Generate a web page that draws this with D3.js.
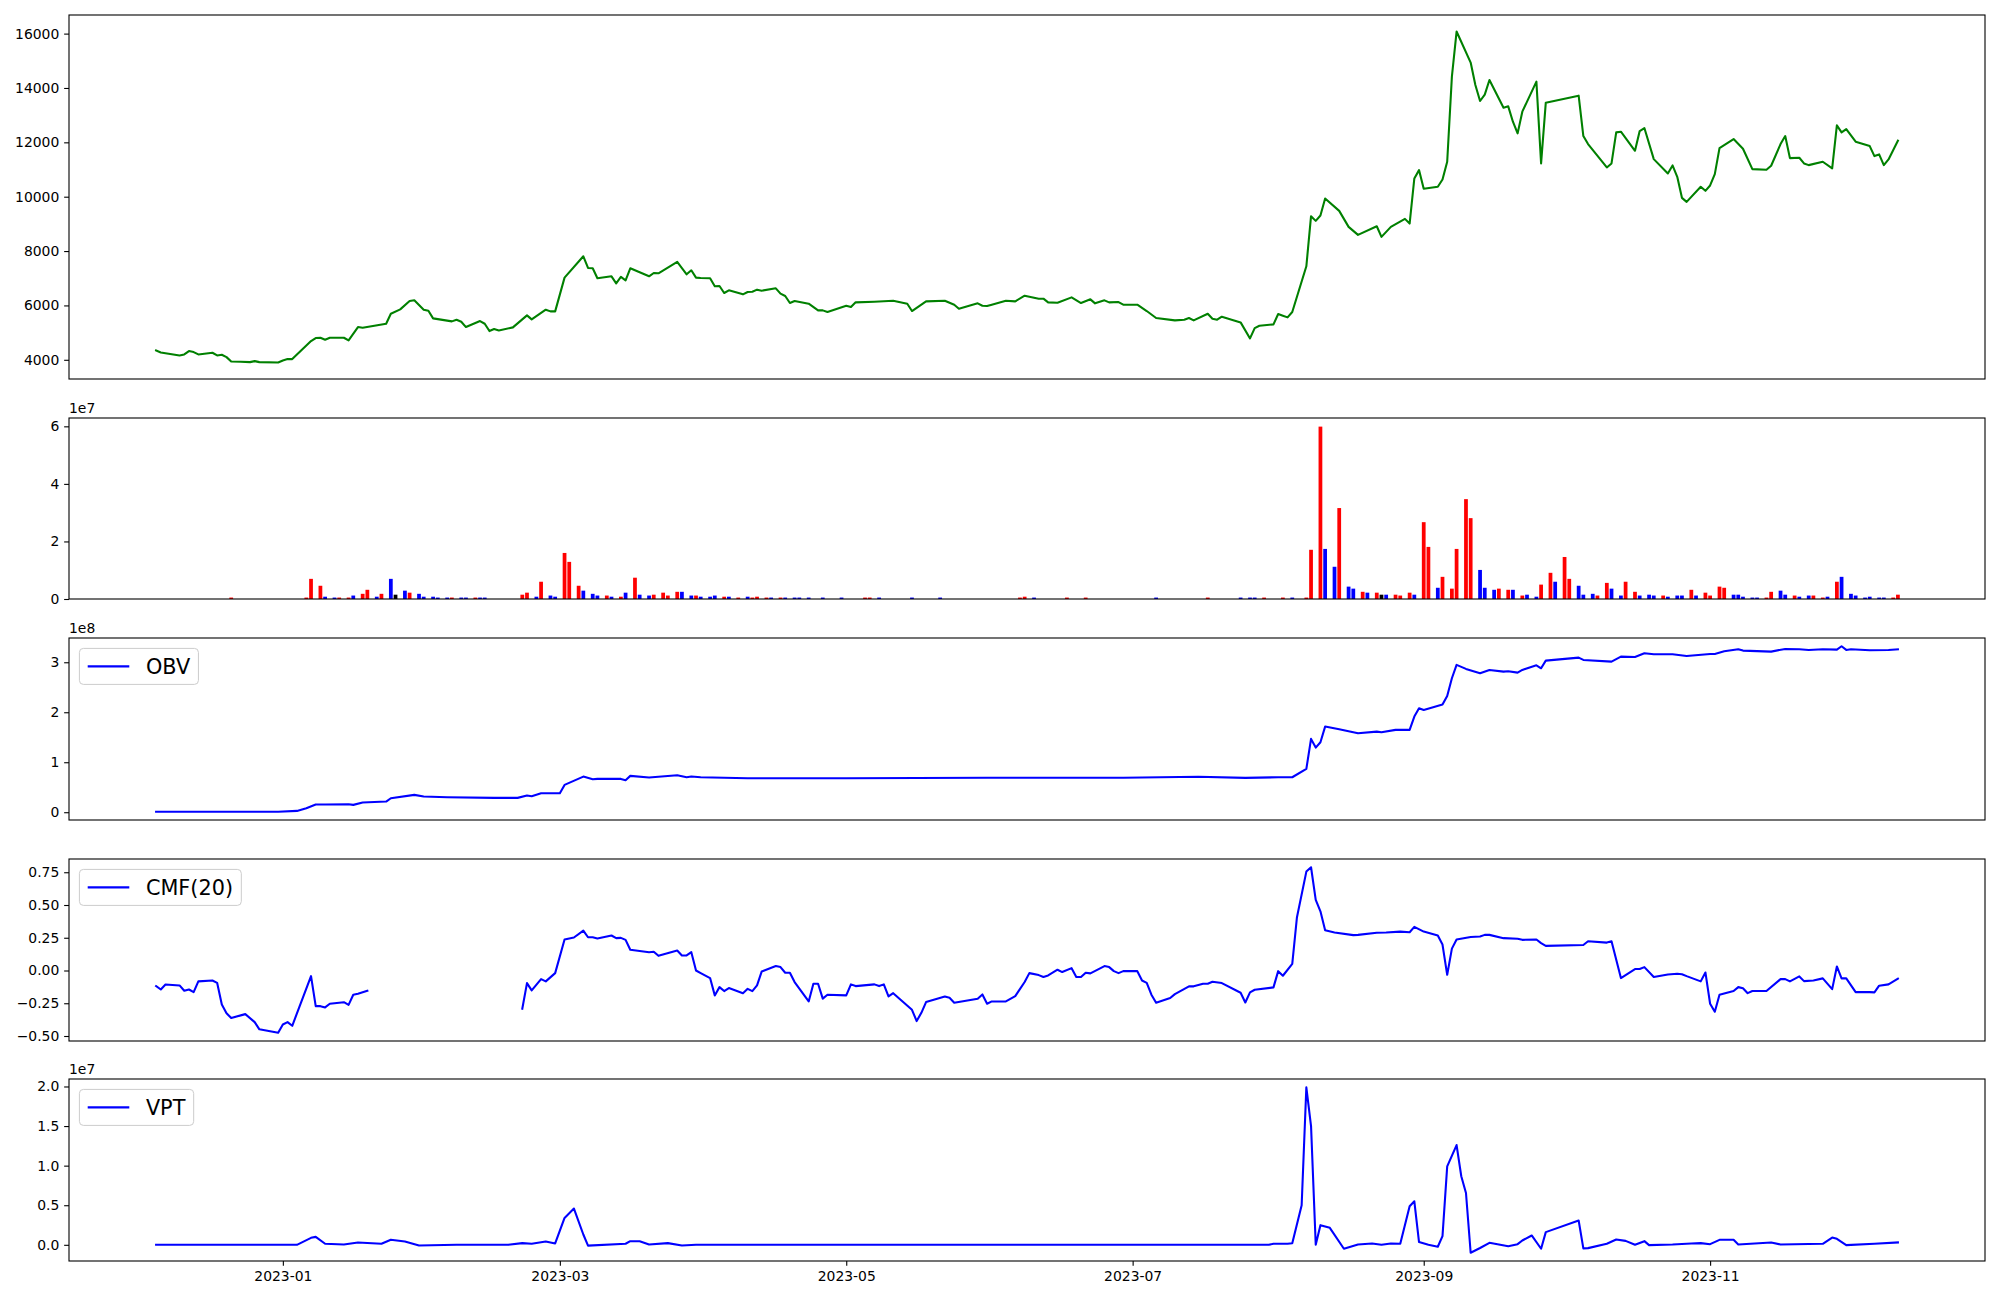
<!DOCTYPE html>
<html>
<head>
<meta charset="utf-8">
<script src="https://cdn.jsdelivr.net/npm/d3@7"></script>
<style>
  body { margin: 0; background: #fff; }
  svg { display: block; font-family: "DejaVu Sans", sans-serif; }
</style>
</head>
<body>
<svg id="chart" width="2000" height="1300"></svg>
<script>
// close price
const priceData = [
  ['2022-12-05', 4344], ['2022-12-06', 4270], ['2022-12-10', 4160], ['2022-12-11', 4197], ['2022-12-12', 4320],
  ['2022-12-13', 4283], ['2022-12-14', 4197], ['2022-12-17', 4258], ['2022-12-18', 4160], ['2022-12-19', 4184],
  ['2022-12-20', 4098], ['2022-12-21', 3939], ['2022-12-23', 3926], ['2022-12-25', 3914], ['2022-12-26', 3951],
  ['2022-12-27', 3914], ['2022-12-31', 3902], ['2023-01-01', 3975], ['2023-01-02', 4025], ['2023-01-03', 4025],
  ['2023-01-07', 4688], ['2023-01-08', 4799], ['2023-01-09', 4811], ['2023-01-10', 4737], ['2023-01-11', 4811],
  ['2023-01-14', 4811], ['2023-01-15', 4713], ['2023-01-17', 5204], ['2023-01-18', 5179], ['2023-01-23', 5327],
  ['2023-01-24', 5695], ['2023-01-26', 5855], ['2023-01-28', 6162], ['2023-01-29', 6187], ['2023-01-31', 5843],
  ['2023-02-01', 5806], ['2023-02-02', 5523], ['2023-02-06', 5413], ['2023-02-07', 5474], ['2023-02-08', 5400],
  ['2023-02-09', 5204], ['2023-02-12', 5425], ['2023-02-13', 5327], ['2023-02-14', 5057], ['2023-02-15', 5130],
  ['2023-02-16', 5081], ['2023-02-19', 5192], ['2023-02-21', 5486], ['2023-02-22', 5634], ['2023-02-23', 5486],
  ['2023-02-26', 5843], ['2023-02-27', 5781], ['2023-02-28', 5781], ['2023-03-02', 7022], ['2023-03-06', 7808],
  ['2023-03-07', 7378], ['2023-03-08', 7366], ['2023-03-09', 6998], ['2023-03-12', 7071], ['2023-03-13', 6813],
  ['2023-03-14', 7047], ['2023-03-15', 6924], ['2023-03-16', 7366], ['2023-03-20', 7071], ['2023-03-21', 7194],
  ['2023-03-22', 7182], ['2023-03-26', 7600], ['2023-03-28', 7145], ['2023-03-29', 7292], ['2023-03-30', 7022],
  ['2023-03-31', 7010], ['2023-04-02', 6998], ['2023-04-03', 6703], ['2023-04-04', 6715], ['2023-04-05', 6457],
  ['2023-04-06', 6555], ['2023-04-09', 6408], ['2023-04-10', 6494], ['2023-04-11', 6506], ['2023-04-12', 6580],
  ['2023-04-13', 6543], ['2023-04-16', 6629], ['2023-04-17', 6432], ['2023-04-18', 6346], ['2023-04-19', 6088],
  ['2023-04-20', 6162], ['2023-04-23', 6064], ['2023-04-25', 5818], ['2023-04-26', 5818], ['2023-04-27', 5757],
  ['2023-05-01', 5990], ['2023-05-02', 5941], ['2023-05-03', 6113], ['2023-05-07', 6138], ['2023-05-11', 6174],
  ['2023-05-14', 6064], ['2023-05-15', 5794], ['2023-05-18', 6150], ['2023-05-22', 6174], ['2023-05-24', 6027],
  ['2023-05-25', 5880], ['2023-05-29', 6076], ['2023-05-30', 5990], ['2023-05-31', 5978], ['2023-06-01', 6027],
  ['2023-06-04', 6174], ['2023-06-06', 6150], ['2023-06-08', 6359], ['2023-06-11', 6248], ['2023-06-12', 6248],
  ['2023-06-13', 6113], ['2023-06-15', 6101], ['2023-06-18', 6297], ['2023-06-20', 6088], ['2023-06-22', 6224],
  ['2023-06-23', 6076], ['2023-06-25', 6187], ['2023-06-26', 6113], ['2023-06-28', 6125], ['2023-06-29', 6027],
  ['2023-07-02', 6027], ['2023-07-04', 5794], ['2023-07-06', 5536], ['2023-07-10', 5450], ['2023-07-12', 5474],
  ['2023-07-13', 5536], ['2023-07-14', 5450], ['2023-07-17', 5695], ['2023-07-18', 5511], ['2023-07-19', 5474],
  ['2023-07-20', 5585], ['2023-07-24', 5376], ['2023-07-26', 4786], ['2023-07-27', 5167], ['2023-07-28', 5253],
  ['2023-07-31', 5302], ['2023-08-01', 5683], ['2023-08-02', 5622], ['2023-08-03', 5560], ['2023-08-04', 5757],
  ['2023-08-07', 7440], ['2023-08-08', 9283], ['2023-08-09', 9111], ['2023-08-10', 9307], ['2023-08-11', 9934],
  ['2023-08-14', 9479], ['2023-08-16', 8889], ['2023-08-18', 8595], ['2023-08-22', 8914], ['2023-08-23', 8521],
  ['2023-08-25', 8889], ['2023-08-28', 9184], ['2023-08-29', 9012], ['2023-08-30', 10671], ['2023-08-31', 10978],
  ['2023-09-01', 10290], ['2023-09-04', 10364], ['2023-09-05', 10634], ['2023-09-06', 11285], ['2023-09-07', 14418],
  ['2023-09-08', 16076], ['2023-09-11', 14934], ['2023-09-12', 14110], ['2023-09-13', 13521], ['2023-09-14', 13754],
  ['2023-09-15', 14295], ['2023-09-18', 13275], ['2023-09-19', 13324], ['2023-09-20', 12759], ['2023-09-21', 12329],
  ['2023-09-22', 13128], ['2023-09-25', 14233], ['2023-09-26', 11224], ['2023-09-27', 13459], ['2023-10-04', 13717],
  ['2023-10-05', 12231], ['2023-10-06', 11936], ['2023-10-10', 11076], ['2023-10-11', 11224], ['2023-10-12', 12366],
  ['2023-10-13', 12391], ['2023-10-16', 11690], ['2023-10-17', 12415], ['2023-10-18', 12526], ['2023-10-20', 11383],
  ['2023-10-23', 10855], ['2023-10-24', 11150], ['2023-10-25', 10732], ['2023-10-26', 9958], ['2023-10-27', 9811],
  ['2023-10-30', 10364], ['2023-10-31', 10216], ['2023-11-01', 10413], ['2023-11-02', 10830], ['2023-11-03', 11789],
  ['2023-11-06', 12120], ['2023-11-08', 11764], ['2023-11-10', 11015], ['2023-11-13', 10990], ['2023-11-14', 11138],
  ['2023-11-16', 11936], ['2023-11-17', 12231], ['2023-11-18', 11420], ['2023-11-20', 11432], ['2023-11-21', 11224],
  ['2023-11-22', 11162], ['2023-11-25', 11285], ['2023-11-27', 11039], ['2023-11-28', 12624], ['2023-11-29', 12366],
  ['2023-11-30', 12489], ['2023-12-02', 12022], ['2023-12-05', 11862], ['2023-12-06', 11494], ['2023-12-07', 11555],
  ['2023-12-08', 11162], ['2023-12-09', 11371], ['2023-12-11', 12059]
]

// volume, with direction of the day: u = up, d = down, e = unchanged
const volumeData = [
  ['2022-12-21', 0.5e6, 'u'], ['2023-01-06', 0.5e6, 'u'], ['2023-01-07', 7.0e6, 'u'], ['2023-01-09', 4.6e6, 'u'],
  ['2023-01-10', 0.8e6, 'd'], ['2023-01-12', 0.5e6, 'd'], ['2023-01-13', 0.5e6, 'u'], ['2023-01-15', 0.5e6, 'u'],
  ['2023-01-16', 1.2e6, 'd'], ['2023-01-18', 1.8e6, 'u'], ['2023-01-19', 3.2e6, 'u'], ['2023-01-21', 0.8e6, 'd'],
  ['2023-01-22', 1.8e6, 'u'], ['2023-01-24', 7.0e6, 'd'], ['2023-01-25', 1.5e6, 'e'], ['2023-01-27', 2.9e6, 'd'],
  ['2023-01-28', 2.2e6, 'u'], ['2023-01-30', 1.8e6, 'd'], ['2023-01-31', 0.8e6, 'd'], ['2023-02-02', 0.8e6, 'd'],
  ['2023-02-03', 0.5e6, 'd'], ['2023-02-05', 0.5e6, 'd'], ['2023-02-06', 0.5e6, 'u'], ['2023-02-08', 0.5e6, 'd'],
  ['2023-02-09', 0.5e6, 'd'], ['2023-02-11', 0.5e6, 'u'], ['2023-02-12', 0.5e6, 'd'], ['2023-02-13', 0.5e6, 'd'],
  ['2023-02-21', 1.5e6, 'u'], ['2023-02-22', 2.2e6, 'u'], ['2023-02-24', 0.8e6, 'd'], ['2023-02-25', 6.0e6, 'u'],
  ['2023-02-27', 1.2e6, 'd'], ['2023-02-28', 0.8e6, 'd'], ['2023-03-02', 16.0e6, 'u'], ['2023-03-03', 12.9e6, 'u'],
  ['2023-03-05', 4.6e6, 'u'], ['2023-03-06', 2.9e6, 'd'], ['2023-03-08', 1.8e6, 'd'], ['2023-03-09', 1.2e6, 'd'],
  ['2023-03-11', 1.2e6, 'u'], ['2023-03-12', 0.8e6, 'd'], ['2023-03-14', 0.8e6, 'u'], ['2023-03-15', 2.2e6, 'd'],
  ['2023-03-17', 7.4e6, 'u'], ['2023-03-18', 1.5e6, 'd'], ['2023-03-20', 1.2e6, 'd'], ['2023-03-21', 1.5e6, 'u'],
  ['2023-03-23', 2.2e6, 'u'], ['2023-03-24', 1.2e6, 'u'], ['2023-03-26', 2.5e6, 'u'], ['2023-03-27', 2.5e6, 'd'],
  ['2023-03-29', 1.2e6, 'd'], ['2023-03-30', 1.2e6, 'u'], ['2023-03-31', 0.8e6, 'd'], ['2023-04-02', 0.8e6, 'd'],
  ['2023-04-03', 1.2e6, 'd'], ['2023-04-05', 0.8e6, 'u'], ['2023-04-06', 0.8e6, 'd'], ['2023-04-08', 0.5e6, 'u'],
  ['2023-04-10', 0.8e6, 'd'], ['2023-04-11', 0.5e6, 'u'], ['2023-04-12', 0.8e6, 'u'], ['2023-04-14', 0.5e6, 'u'],
  ['2023-04-15', 0.5e6, 'd'], ['2023-04-17', 0.5e6, 'u'], ['2023-04-18', 0.5e6, 'd'], ['2023-04-20', 0.5e6, 'd'],
  ['2023-04-21', 0.5e6, 'd'], ['2023-04-23', 0.5e6, 'd'], ['2023-04-26', 0.5e6, 'd'], ['2023-04-30', 0.5e6, 'd'],
  ['2023-05-05', 0.5e6, 'u'], ['2023-05-06', 0.5e6, 'u'], ['2023-05-08', 0.5e6, 'd'], ['2023-05-15', 0.5e6, 'd'],
  ['2023-05-21', 0.5e6, 'd'], ['2023-06-07', 0.5e6, 'u'], ['2023-06-08', 0.8e6, 'u'], ['2023-06-10', 0.5e6, 'd'],
  ['2023-06-17', 0.5e6, 'u'], ['2023-06-21', 0.5e6, 'u'], ['2023-07-06', 0.5e6, 'd'], ['2023-07-17', 0.5e6, 'u'],
  ['2023-07-24', 0.5e6, 'd'], ['2023-07-26', 0.5e6, 'd'], ['2023-07-27', 0.5e6, 'd'], ['2023-07-29', 0.5e6, 'u'],
  ['2023-08-02', 0.5e6, 'u'], ['2023-08-04', 0.5e6, 'd'], ['2023-08-07', 0.5e6, 'u'], ['2023-08-08', 17.1e6, 'u'],
  ['2023-08-10', 59.9e6, 'u'], ['2023-08-11', 17.4e6, 'd'], ['2023-08-13', 11.2e6, 'd'], ['2023-08-14', 31.6e6, 'u'],
  ['2023-08-16', 4.3e6, 'd'], ['2023-08-17', 3.6e6, 'd'], ['2023-08-19', 2.5e6, 'u'], ['2023-08-20', 2.2e6, 'd'],
  ['2023-08-22', 2.2e6, 'u'], ['2023-08-23', 1.5e6, 'e'], ['2023-08-24', 1.5e6, 'd'], ['2023-08-26', 1.5e6, 'u'],
  ['2023-08-27', 1.2e6, 'u'], ['2023-08-29', 2.2e6, 'u'], ['2023-08-30', 1.5e6, 'd'], ['2023-09-01', 26.7e6, 'u'],
  ['2023-09-02', 18.1e6, 'u'], ['2023-09-04', 3.9e6, 'd'], ['2023-09-05', 7.7e6, 'u'], ['2023-09-07', 3.6e6, 'u'],
  ['2023-09-08', 17.4e6, 'u'], ['2023-09-10', 34.7e6, 'u'], ['2023-09-11', 28.1e6, 'u'], ['2023-09-13', 10.1e6, 'd'],
  ['2023-09-14', 3.9e6, 'd'], ['2023-09-16', 3.2e6, 'd'], ['2023-09-17', 3.6e6, 'u'], ['2023-09-19', 3.2e6, 'u'],
  ['2023-09-20', 3.2e6, 'd'], ['2023-09-22', 1.2e6, 'u'], ['2023-09-23', 1.5e6, 'd'], ['2023-09-25', 0.8e6, 'd'],
  ['2023-09-26', 5.0e6, 'u'], ['2023-09-28', 9.1e6, 'u'], ['2023-09-29', 6.0e6, 'd'], ['2023-10-01', 14.6e6, 'u'],
  ['2023-10-02', 7.0e6, 'u'], ['2023-10-04', 4.6e6, 'd'], ['2023-10-05', 1.5e6, 'd'], ['2023-10-07', 1.8e6, 'd'],
  ['2023-10-08', 1.2e6, 'u'], ['2023-10-10', 5.6e6, 'u'], ['2023-10-11', 3.6e6, 'd'], ['2023-10-13', 1.2e6, 'd'],
  ['2023-10-14', 6.0e6, 'u'], ['2023-10-16', 2.5e6, 'u'], ['2023-10-17', 1.2e6, 'd'], ['2023-10-19', 1.5e6, 'd'],
  ['2023-10-20', 1.2e6, 'd'], ['2023-10-22', 1.2e6, 'u'], ['2023-10-23', 0.8e6, 'd'], ['2023-10-25', 1.2e6, 'd'],
  ['2023-10-26', 1.2e6, 'd'], ['2023-10-28', 3.2e6, 'u'], ['2023-10-29', 1.2e6, 'd'], ['2023-10-31', 2.2e6, 'u'],
  ['2023-11-01', 1.2e6, 'u'], ['2023-11-03', 4.3e6, 'u'], ['2023-11-04', 3.9e6, 'u'], ['2023-11-06', 1.5e6, 'd'],
  ['2023-11-07', 1.5e6, 'd'], ['2023-11-08', 0.8e6, 'd'], ['2023-11-10', 0.5e6, 'd'], ['2023-11-11', 0.5e6, 'd'],
  ['2023-11-13', 0.5e6, 'u'], ['2023-11-14', 2.5e6, 'u'], ['2023-11-16', 2.9e6, 'd'], ['2023-11-17', 1.5e6, 'd'],
  ['2023-11-19', 1.2e6, 'u'], ['2023-11-20', 0.8e6, 'd'], ['2023-11-22', 1.2e6, 'd'], ['2023-11-23', 1.2e6, 'u'],
  ['2023-11-25', 0.5e6, 'u'], ['2023-11-26', 0.8e6, 'd'], ['2023-11-28', 6.0e6, 'u'], ['2023-11-29', 7.7e6, 'd'],
  ['2023-12-01', 1.8e6, 'd'], ['2023-12-02', 1.2e6, 'd'], ['2023-12-04', 0.5e6, 'd'], ['2023-12-05', 0.8e6, 'd'],
  ['2023-12-07', 0.5e6, 'd'], ['2023-12-08', 0.5e6, 'd'], ['2023-12-10', 0.5e6, 'u'], ['2023-12-11', 1.5e6, 'u']
]

// on-balance volume
const obvData = [
  ['2022-12-05', 1.0e6], ['2022-12-31', 1.0e6], ['2023-01-04', 2.7e6], ['2023-01-06', 8.0e6], ['2023-01-08', 15.3e6],
  ['2023-01-10', 15.3e6], ['2023-01-15', 16.0e6], ['2023-01-16', 14.7e6], ['2023-01-18', 19.3e6], ['2023-01-23', 21.3e6],
  ['2023-01-24', 28.0e6], ['2023-01-29', 34.7e6], ['2023-01-31', 31.3e6], ['2023-02-05', 30.0e6], ['2023-02-15', 28.7e6],
  ['2023-02-20', 28.7e6], ['2023-02-22', 33.3e6], ['2023-02-23', 32.0e6], ['2023-02-25', 38.0e6], ['2023-03-01', 38.0e6],
  ['2023-03-02', 54.7e6], ['2023-03-06', 71.3e6], ['2023-03-08', 66.0e6], ['2023-03-09', 66.7e6], ['2023-03-14', 66.7e6],
  ['2023-03-15', 64.0e6], ['2023-03-16', 72.7e6], ['2023-03-20', 69.3e6], ['2023-03-26', 74.0e6], ['2023-03-28', 70.0e6],
  ['2023-03-29', 71.3e6], ['2023-03-31', 70.0e6], ['2023-04-10', 68.0e6], ['2023-05-01', 68.0e6], ['2023-05-31', 69.0e6],
  ['2023-06-29', 69.0e6], ['2023-07-15', 71.0e6], ['2023-07-25', 68.7e6], ['2023-08-01', 70.0e6], ['2023-08-04', 70.0e6],
  ['2023-08-07', 86.7e6], ['2023-08-08', 146.7e6], ['2023-08-09', 129.3e6], ['2023-08-10', 140.0e6], ['2023-08-11', 171.3e6],
  ['2023-08-14', 166.0e6], ['2023-08-18', 158.0e6], ['2023-08-22', 161.3e6], ['2023-08-23', 160.0e6], ['2023-08-26', 164.7e6],
  ['2023-08-29', 164.7e6], ['2023-08-30', 191.3e6], ['2023-08-31', 208.0e6], ['2023-09-01', 204.7e6], ['2023-09-05', 215.3e6],
  ['2023-09-06', 232.7e6], ['2023-09-07', 268.0e6], ['2023-09-08', 294.7e6], ['2023-09-10', 286.7e6], ['2023-09-13', 278.0e6],
  ['2023-09-15', 284.7e6], ['2023-09-18', 281.3e6], ['2023-09-19', 282.0e6], ['2023-09-21', 279.3e6], ['2023-09-22', 284.7e6],
  ['2023-09-25', 294.0e6], ['2023-09-26', 288.0e6], ['2023-09-27', 303.3e6], ['2023-10-04', 309.3e6], ['2023-10-05', 304.7e6],
  ['2023-10-11', 301.3e6], ['2023-10-13', 311.3e6], ['2023-10-16', 310.7e6], ['2023-10-18', 318.0e6], ['2023-10-20', 316.0e6],
  ['2023-10-24', 316.0e6], ['2023-10-27', 312.7e6], ['2023-11-01', 316.7e6], ['2023-11-02', 316.7e6], ['2023-11-04', 322.0e6],
  ['2023-11-07', 326.0e6], ['2023-11-08', 323.3e6], ['2023-11-14', 321.3e6], ['2023-11-17', 326.7e6], ['2023-11-20', 326.0e6],
  ['2023-11-22', 324.7e6], ['2023-11-25', 326.0e6], ['2023-11-28', 325.3e6], ['2023-11-29', 332.0e6], ['2023-11-30', 324.7e6],
  ['2023-12-01', 326.0e6], ['2023-12-05', 324.0e6], ['2023-12-09', 324.7e6], ['2023-12-11', 326.0e6]
]

// chaikin money flow, 20 days (null = not defined)
const cmfData = [
  ['2022-12-05', -0.119], ['2022-12-06', -0.145], ['2022-12-07', -0.107], ['2022-12-10', -0.114], ['2022-12-11', -0.155],
  ['2022-12-12', -0.145], ['2022-12-13', -0.165], ['2022-12-14', -0.083], ['2022-12-17', -0.076], ['2022-12-18', -0.094],
  ['2022-12-19', -0.26], ['2022-12-20', -0.326], ['2022-12-21', -0.363], ['2022-12-24', -0.333], ['2022-12-26', -0.394],
  ['2022-12-27', -0.449], ['2022-12-31', -0.475], ['2023-01-01', -0.412], ['2023-01-02', -0.394], ['2023-01-03', -0.422],
  ['2023-01-07', -0.043], ['2023-01-08', -0.272], ['2023-01-09', -0.272], ['2023-01-10', -0.282], ['2023-01-11', -0.254],
  ['2023-01-14', -0.242], ['2023-01-15', -0.262], ['2023-01-16', -0.185], ['2023-01-17', -0.178], ['2023-01-19', -0.155],
  ['2023-01-20', null],
  ['2023-02-21', -0.292], ['2023-02-22', -0.096], ['2023-02-23', -0.152], ['2023-02-25', -0.066], ['2023-02-26', -0.083],
  ['2023-02-28', -0.02], ['2023-03-02', 0.237], ['2023-03-04', 0.252], ['2023-03-06', 0.305], ['2023-03-07', 0.254],
  ['2023-03-08', 0.254], ['2023-03-09', 0.244], ['2023-03-12', 0.267], ['2023-03-13', 0.247], ['2023-03-14', 0.249],
  ['2023-03-15', 0.234], ['2023-03-16', 0.158], ['2023-03-20', 0.14], ['2023-03-21', 0.143], ['2023-03-22', 0.112],
  ['2023-03-26', 0.153], ['2023-03-27', 0.115], ['2023-03-28', 0.115], ['2023-03-29', 0.14], ['2023-03-30', 0.0],
  ['2023-03-31', -0.02], ['2023-04-02', -0.058], ['2023-04-03', -0.19], ['2023-04-04', -0.127], ['2023-04-05', -0.157],
  ['2023-04-06', -0.134], ['2023-04-09', -0.173], ['2023-04-10', -0.14], ['2023-04-11', -0.157], ['2023-04-12', -0.114],
  ['2023-04-13', -0.007], ['2023-04-16', 0.034], ['2023-04-17', 0.026], ['2023-04-18', -0.017], ['2023-04-19', -0.017],
  ['2023-04-20', -0.088], ['2023-04-23', -0.236], ['2023-04-24', -0.101], ['2023-04-25', -0.101], ['2023-04-26', -0.215],
  ['2023-04-27', -0.185], ['2023-05-01', -0.19], ['2023-05-02', -0.106], ['2023-05-03', -0.119], ['2023-05-07', -0.106],
  ['2023-05-08', -0.119], ['2023-05-09', -0.106], ['2023-05-10', -0.198], ['2023-05-11', -0.173], ['2023-05-15', -0.3],
  ['2023-05-16', -0.386], ['2023-05-17', -0.323], ['2023-05-18', -0.241], ['2023-05-22', -0.198], ['2023-05-23', -0.208],
  ['2023-05-24', -0.246], ['2023-05-29', -0.215], ['2023-05-30', -0.183], ['2023-05-31', -0.254], ['2023-06-01', -0.236],
  ['2023-06-04', -0.236], ['2023-06-06', -0.195], ['2023-06-08', -0.088], ['2023-06-09', -0.02], ['2023-06-11', -0.035],
  ['2023-06-12', -0.05], ['2023-06-13', -0.038], ['2023-06-15', 0.006], ['2023-06-16', -0.012], ['2023-06-18', 0.018],
  ['2023-06-19', -0.05], ['2023-06-20', -0.05], ['2023-06-21', -0.017], ['2023-06-22', -0.022], ['2023-06-25', 0.034],
  ['2023-06-26', 0.026], ['2023-06-27', -0.005], ['2023-06-28', -0.02], ['2023-06-29', -0.005], ['2023-07-02', -0.005],
  ['2023-07-03', -0.076], ['2023-07-04', -0.094], ['2023-07-05', -0.185], ['2023-07-06', -0.246], ['2023-07-09', -0.21],
  ['2023-07-10', -0.18], ['2023-07-13', -0.121], ['2023-07-14', -0.121], ['2023-07-16', -0.101], ['2023-07-17', -0.101],
  ['2023-07-18', -0.086], ['2023-07-20', -0.096], ['2023-07-24', -0.17], ['2023-07-25', -0.244], ['2023-07-26', -0.167],
  ['2023-07-27', -0.147], ['2023-07-31', -0.129], ['2023-08-01', -0.005], ['2023-08-02', -0.04], ['2023-08-04', 0.051],
  ['2023-08-05', 0.407], ['2023-08-07', 0.755], ['2023-08-08', 0.788], ['2023-08-09', 0.539], ['2023-08-10', 0.452],
  ['2023-08-11', 0.307], ['2023-08-13', 0.29], ['2023-08-17', 0.27], ['2023-08-18', 0.272], ['2023-08-22', 0.288],
  ['2023-08-24', 0.29], ['2023-08-27', 0.297], ['2023-08-29', 0.292], ['2023-08-30', 0.333], ['2023-09-01', 0.297],
  ['2023-09-04', 0.267], ['2023-09-05', 0.198], ['2023-09-06', -0.033], ['2023-09-07', 0.167], ['2023-09-08', 0.236],
  ['2023-09-11', 0.256], ['2023-09-13', 0.259], ['2023-09-14', 0.272], ['2023-09-15', 0.272], ['2023-09-18', 0.247],
  ['2023-09-21', 0.242], ['2023-09-22', 0.234], ['2023-09-25', 0.237], ['2023-09-26', 0.209], ['2023-09-27', 0.188],
  ['2023-10-05', 0.195], ['2023-10-06', 0.223], ['2023-10-10', 0.213], ['2023-10-11', 0.223], ['2023-10-13', -0.058],
  ['2023-10-16', 0.011], ['2023-10-17', 0.011], ['2023-10-18', 0.026], ['2023-10-20', -0.05], ['2023-10-23', -0.03],
  ['2023-10-25', -0.025], ['2023-10-26', -0.028], ['2023-10-27', -0.043], ['2023-10-30', -0.083], ['2023-10-31', -0.015],
  ['2023-11-01', -0.254], ['2023-11-02', -0.315], ['2023-11-03', -0.185], ['2023-11-06', -0.157], ['2023-11-07', -0.127],
  ['2023-11-08', -0.135], ['2023-11-09', -0.173], ['2023-11-10', -0.157], ['2023-11-13', -0.157], ['2023-11-16', -0.066],
  ['2023-11-17', -0.066], ['2023-11-18', -0.083], ['2023-11-20', -0.045], ['2023-11-21', -0.081], ['2023-11-23', -0.076],
  ['2023-11-25', -0.06], ['2023-11-27', -0.142], ['2023-11-28', 0.031], ['2023-11-29', -0.06], ['2023-11-30', -0.06],
  ['2023-12-02', -0.165], ['2023-12-05', -0.165], ['2023-12-06', -0.167], ['2023-12-07', -0.116], ['2023-12-09', -0.106],
  ['2023-12-11', -0.063]
]

// volume price trend
const vptData = [
  ['2022-12-05', 0], ['2022-12-29', 0], ['2023-01-04', 0], ['2023-01-07', 0.88e6], ['2023-01-08', 1.0e6],
  ['2023-01-10', 0.13e6], ['2023-01-14', 0.04e6], ['2023-01-17', 0.3e6], ['2023-01-22', 0.13e6], ['2023-01-24', 0.63e6],
  ['2023-01-27', 0.42e6], ['2023-01-30', -0.08e6], ['2023-02-07', 0], ['2023-02-18', 0], ['2023-02-21', 0.21e6],
  ['2023-02-23', 0.13e6], ['2023-02-26', 0.42e6], ['2023-02-28', 0.17e6], ['2023-03-02', 3.4e6], ['2023-03-04', 4.58e6],
  ['2023-03-06', 1.3e6], ['2023-03-07', -0.1e6], ['2023-03-15', 0.13e6], ['2023-03-16', 0.46e6], ['2023-03-18', 0.46e6],
  ['2023-03-20', 0.04e6], ['2023-03-24', 0.21e6], ['2023-03-27', -0.08e6], ['2023-03-30', 0], ['2023-07-30', 0],
  ['2023-07-31', 0.13e6], ['2023-08-03', 0.13e6], ['2023-08-04', 0.2e6], ['2023-08-06', 5.0e6], ['2023-08-07', 19.9e6],
  ['2023-08-08', 15.0e6], ['2023-08-09', 0], ['2023-08-10', 2.48e6], ['2023-08-12', 2.14e6], ['2023-08-15', -0.5e6],
  ['2023-08-18', 0.04e6], ['2023-08-21', 0.17e6], ['2023-08-23', 0], ['2023-08-25', 0.17e6], ['2023-08-27', 0.13e6],
  ['2023-08-29', 4.87e6], ['2023-08-30', 5.5e6], ['2023-08-31', 0.34e6], ['2023-09-02', 0], ['2023-09-04', -0.25e6],
  ['2023-09-05', 1.09e6], ['2023-09-06', 9.9e6], ['2023-09-08', 12.6e6], ['2023-09-09', 8.66e6], ['2023-09-10', 6.55e6],
  ['2023-09-11', -1.0e6], ['2023-09-13', -0.4e6], ['2023-09-15', 0.25e6], ['2023-09-17', 0.04e6], ['2023-09-19', -0.17e6],
  ['2023-09-21', 0.08e6], ['2023-09-22', 0.55e6], ['2023-09-24', 1.18e6], ['2023-09-26', -0.5e6], ['2023-09-27', 1.6e6],
  ['2023-10-04', 3.07e6], ['2023-10-05', -0.45e6], ['2023-10-06', -0.42e6], ['2023-10-10', 0.13e6], ['2023-10-12', 0.67e6],
  ['2023-10-14', 0.5e6], ['2023-10-16', 0], ['2023-10-18', 0.46e6], ['2023-10-19', -0.04e6], ['2023-10-24', 0.04e6],
  ['2023-10-28', 0.17e6], ['2023-10-30', 0.21e6], ['2023-11-01', 0.08e6], ['2023-11-03', 0.63e6], ['2023-11-06', 0.63e6],
  ['2023-11-07', 0.04e6], ['2023-11-14', 0.3e6], ['2023-11-16', 0.04e6], ['2023-11-25', 0.13e6], ['2023-11-27', 0.92e6],
  ['2023-11-28', 0.76e6], ['2023-11-30', -0.04e6], ['2023-12-06', 0.13e6], ['2023-12-11', 0.3e6]
]

const xTickDates = ['2023-01-01', '2023-03-01', '2023-05-01', '2023-07-01', '2023-09-01', '2023-11-01']
const priceTicks = [4000, 6000, 8000, 10000, 12000, 14000, 16000]
const volumeTicks = [0, 2e7, 4e7, 6e7]
const obvTicks = [0, 1e8, 2e8, 3e8]
const cmfTicks = [-0.5, -0.25, 0, 0.25, 0.5, 0.75]
const vptTicks = [0, 0.5e7, 1e7, 1.5e7, 2e7]

const parse = d3.timeParse('%Y-%m-%d')
const svg = d3.select('#chart')
const left = 69, right = 1985
const tickLen = 4.86, fontPx = 13.9, lw = 2.08

// matplotlib style 5% margins
function padded(lo, hi) {
  const m = (hi - lo) * 0.05
  return [lo - m, hi + m]
}

const allDates = [priceData, volumeData, obvData, cmfData, vptData].flatMap(s => s.map(d => parse(d[0])))
const [d0, d1] = d3.extent(allDates)
const x = d3.scaleTime()
  .domain(padded(+d0, +d1).map(t => new Date(t)))
  .range([left, right])

function panel(top, bottom, domain, ticks, fmt, offsetLabel) {
  const y = d3.scaleLinear().domain(domain).range([bottom, top])
  const g = svg.append('g')
  const ax = g.append('g')
    .attr('transform', `translate(${left},0)`)
    .call(d3.axisLeft(y).tickValues(ticks).tickFormat(fmt).tickSize(tickLen).tickPadding(4.86))
  ax.select('.domain').remove()
  ax.selectAll('.tick line').attr('stroke', '#000').attr('stroke-width', 1.1)
  ax.selectAll('.tick text').attr('font-size', fontPx).attr('fill', '#000')
    .attr('font-family', '"DejaVu Sans", sans-serif')
  if (offsetLabel) {
    g.append('text').attr('x', left).attr('y', top - 5)
      .attr('font-size', fontPx).text(offsetLabel)
  }
  return {y, g, top, bottom}
}

function frame(p) {
  p.g.append('rect').attr('x', left).attr('y', p.top)
    .attr('width', right - left).attr('height', p.bottom - p.top)
    .attr('fill', 'none').attr('stroke', '#000').attr('stroke-width', 1.1)
}

function drawLine(p, data, color) {
  const line = d3.line()
    .defined(d => d[1] != null)
    .x(d => x(parse(d[0])))
    .y(d => p.y(d[1]))
  p.g.append('path').datum(data)
    .attr('d', line).attr('fill', 'none')
    .attr('stroke', color).attr('stroke-width', lw)
    .attr('stroke-linejoin', 'round').attr('stroke-linecap', 'square')
}

function legend(p, label) {
  const fs = 20.8, bx = left + 10.4, by = p.top + 10.4, bh = 36
  const lg = p.g.append('g')
  const box = lg.append('rect').attr('x', bx).attr('y', by).attr('height', bh)
    .attr('rx', 4).attr('fill', '#fff').attr('fill-opacity', 0.8)
    .attr('stroke', '#ccc').attr('stroke-width', 1)
  lg.append('line').attr('x1', bx + 8.3).attr('x2', bx + 8.3 + 41.6)
    .attr('y1', by + bh / 2).attr('y2', by + bh / 2)
    .attr('stroke', 'blue').attr('stroke-width', lw)
  const t = lg.append('text').attr('x', bx + 8.3 + 41.6 + 16.6).attr('y', by + bh / 2)
    .attr('dy', '0.36em').attr('font-size', fs).text(label)
  box.attr('width', 8.3 + 41.6 + 16.6 + t.node().getComputedTextLength() + 8.3)
}

// price
const pricePanel = panel(15, 379,
  padded(d3.min(priceData, d => d[1]), d3.max(priceData, d => d[1])),
  priceTicks, d3.format('d'))
drawLine(pricePanel, priceData, 'green')
frame(pricePanel)

// volume bars
const volMax = d3.max(volumeData, d => d[1])
const volPanel = panel(418, 599, [0, volMax * 1.05], volumeTicks, v => d3.format('d')(v / 1e7), '1e7')
const barColor = {u: 'red', d: 'blue', e: 'black'}
const halfDay = 0.4 * 864e5
volPanel.g.append('g').selectAll('rect')
  .data(volumeData).enter().append('rect')
  .attr('x', d => x(new Date(+parse(d[0]) - halfDay)))
  .attr('width', d => x(new Date(+parse(d[0]) + halfDay)) - x(new Date(+parse(d[0]) - halfDay)))
  .attr('y', d => volPanel.y(d[1]))
  .attr('height', d => volPanel.y(0) - volPanel.y(d[1]))
  .attr('fill', d => barColor[d[2]])
frame(volPanel)

// OBV
const obvPanel = panel(638, 820,
  padded(d3.min(obvData, d => d[1]), d3.max(obvData, d => d[1])),
  obvTicks, v => d3.format('d')(v / 1e8), '1e8')
drawLine(obvPanel, obvData, 'blue')
frame(obvPanel)
legend(obvPanel, 'OBV')

// CMF
const cmfPanel = panel(859, 1041,
  padded(d3.min(cmfData, d => d[1]), d3.max(cmfData, d => d[1])),
  cmfTicks, d3.format('.2f'))
drawLine(cmfPanel, cmfData, 'blue')
frame(cmfPanel)
legend(cmfPanel, 'CMF(20)')

// VPT
const vptPanel = panel(1079, 1261,
  padded(d3.min(vptData, d => d[1]), d3.max(vptData, d => d[1])),
  vptTicks, v => d3.format('.1f')(v / 1e7), '1e7')
drawLine(vptPanel, vptData, 'blue')
frame(vptPanel)
legend(vptPanel, 'VPT')

// shared date axis under the last panel
const xa = svg.append('g')
  .attr('transform', `translate(0,${vptPanel.bottom})`)
  .call(d3.axisBottom(x).tickValues(xTickDates.map(parse))
    .tickFormat(d3.timeFormat('%Y-%m')).tickSize(tickLen).tickPadding(4.86))
xa.select('.domain').remove()
xa.selectAll('.tick line').attr('stroke', '#000').attr('stroke-width', 1.1)
xa.selectAll('.tick text').attr('font-size', fontPx).attr('fill', '#000')
  .attr('font-family', '"DejaVu Sans", sans-serif')
</script>
</body>
</html>
